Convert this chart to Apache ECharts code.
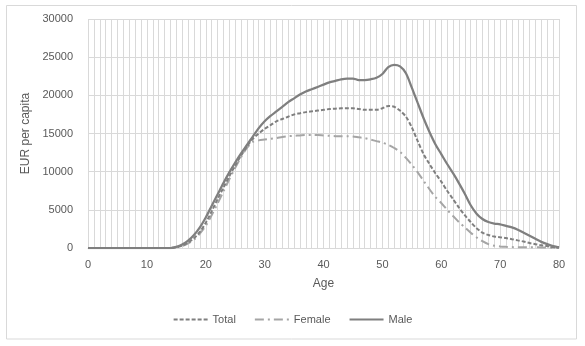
<!DOCTYPE html>
<html><head><meta charset="utf-8">
<script src="https://cdn.jsdelivr.net/npm/echarts@6/dist/echarts.min.js"></script>
<style>html,body{margin:0;padding:0;background:#fff}#c{width:585px;height:346px}</style>
</head><body><div id="c"></div>
<script>
const ages = Array.from({length: 81}, (_, i) => String(i));
const total = [0,0,0,0,0,0,0,0,0,0,0,0,0,0,0,100,300,700,1300,2100,3300,4800,6400,7900,9400,10800,12100,13300,14300,15000,15600,16100,16600,16900,17200,17500,17650,17800,17900,18000,18100,18200,18250,18300,18300,18300,18200,18100,18100,18100,18300,18600,18500,18000,17200,15800,14000,12300,11000,9800,8700,7500,6400,5300,4300,3400,2600,2000,1700,1500,1400,1300,1150,1000,850,650,500,350,250,100,50];
const female = [0,0,0,0,0,0,0,0,0,0,0,0,0,0,0,100,250,600,1100,1900,2900,4300,5800,7400,9000,10500,11900,13100,13900,14100,14200,14300,14400,14550,14650,14700,14750,14800,14800,14800,14750,14700,14650,14650,14650,14600,14500,14400,14200,14000,13800,13500,13100,12600,11800,10900,9900,8800,7700,6700,5900,5000,4200,3400,2700,2000,1400,900,500,300,200,150,120,100,100,100,100,80,60,40,0];
const male = [0,0,0,0,0,0,0,0,0,0,0,0,0,0,0,150,450,950,1700,2700,4000,5500,7000,8500,9900,11200,12400,13500,14600,15700,16600,17300,17900,18500,19100,19600,20100,20500,20800,21100,21400,21700,21900,22100,22200,22200,22000,22000,22100,22300,22800,23700,24000,23800,22900,21000,19000,17000,15200,13600,12300,11000,9800,8500,7100,5600,4500,3800,3400,3200,3100,2900,2700,2400,2000,1600,1200,800,500,250,100];
const seriesNames = ['Total','Female','Male'];
const yTicks = {min: 0, max: 30000, interval: 5000};

const font = 'Liberation Sans, Arial, sans-serif';
const chart = echarts.init(document.getElementById('c'), null, {renderer: 'canvas'});
chart.setOption({
  animation: false,
  backgroundColor: '#fff',
  graphic: [{type: 'rect', shape: {x: 6.5, y: 5.5, width: 570, height: 333.5}, style: {fill: 'none', stroke: '#d9d9d9', lineWidth: 1}, silent: true}],
  grid: {left: 88, right: 26, top: 19, bottom: 98, containLabel: false},
  legend: {
    bottom: 16, left: 'center', itemWidth: 34, itemHeight: 10, itemGap: 18,
    textStyle: {color: '#595959', fontSize: 11, fontFamily: font},
    itemStyle: {color: 'rgba(0,0,0,0)', borderWidth: 0, opacity: 0},
    data: seriesNames
  },
  xAxis: {
    type: 'category', data: ages, boundaryGap: false,
    name: 'Age', nameLocation: 'middle', nameGap: 30,
    nameTextStyle: {color: '#595959', fontSize: 12, fontFamily: font},
    axisLine: {lineStyle: {color: '#d9d9d9'}},
    axisTick: {show: false},
    axisLabel: {interval: 9, color: '#595959', fontSize: 11, fontFamily: font, margin: 11},
    splitLine: {show: true, interval: 0, lineStyle: {color: '#d9d9d9', width: 1}}
  },
  yAxis: {
    type: 'value', min: yTicks.min, max: yTicks.max, interval: yTicks.interval,
    name: 'EUR per capita', nameLocation: 'middle', nameGap: 42,
    nameTextStyle: {color: '#595959', fontSize: 12, fontFamily: font},
    axisLine: {show: false}, axisTick: {show: false},
    axisLabel: {color: '#595959', fontSize: 11, fontFamily: font, margin: 15, formatter: v => String(v)},
    splitLine: {lineStyle: {color: '#d9d9d9', width: 1}}
  },
  series: [
    {name: 'Total', type: 'line', data: total, smooth: 0.3, symbol: 'none', z: 3,
     itemStyle: {color: '#7f7f7f'}, lineStyle: {color: '#7f7f7f', width: 2, type: [4, 2]}},
    {name: 'Female', type: 'line', data: female, smooth: 0.3, symbol: 'none', z: 2,
     itemStyle: {color: '#a5a5a5'}, lineStyle: {color: '#a5a5a5', width: 2, type: [9, 4, 2, 4]}},
    {name: 'Male', type: 'line', data: male, smooth: 0.3, symbol: 'none', z: 4,
     itemStyle: {color: '#7f7f7f'}, lineStyle: {color: '#7f7f7f', width: 2.25, type: 'solid'}}
  ]
});
</script></body></html>
